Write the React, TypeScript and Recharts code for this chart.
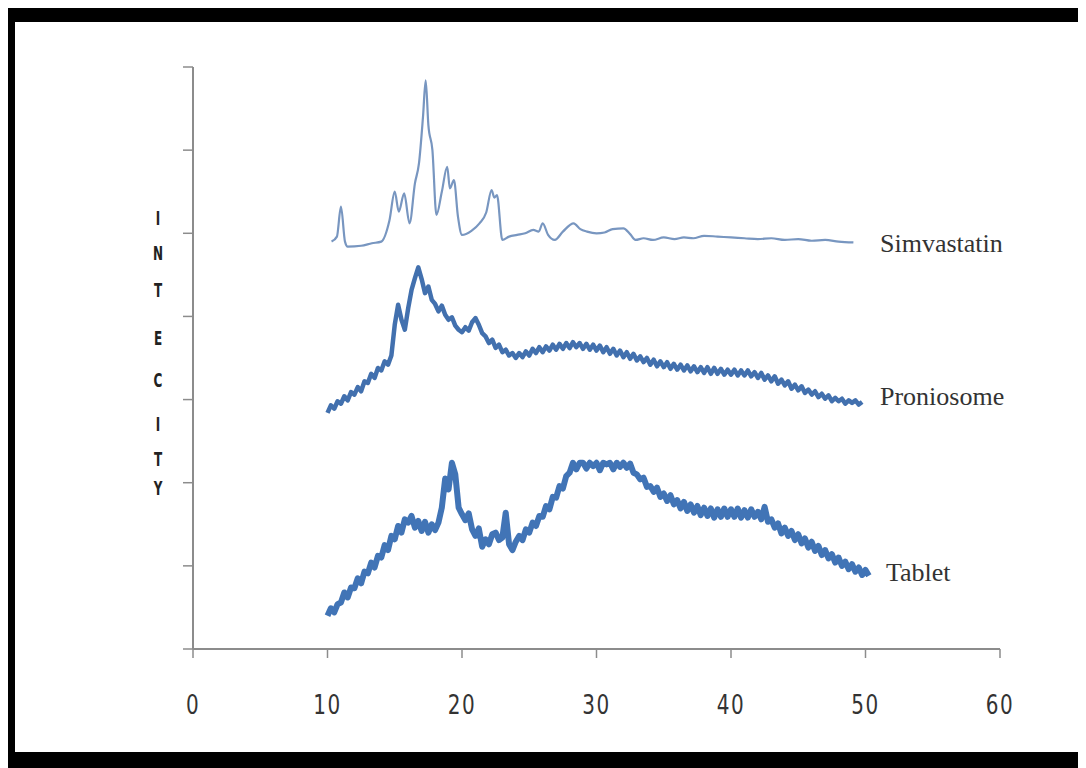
import React from "react";
import { LineChart, Line, XAxis, YAxis } from "recharts";

// x grid for the two dense scans (degrees 2-theta)
const gridStart = 10;
const gridStep = 0.25;

const xTicks = [0, 10, 20, 30, 40, 50, 60];
const yTicks = [0, 10, 20, 30, 40, 50, 60, 70];

const seriesNames = ["Simvastatin", "Proniosome", "Tablet"];
const yTitle = "INTECITY";

// Simvastatin: [x, intensity]
const simvastatin: [number, number][] = [
  [10.3, 49.0], [10.7, 49.6], [11.0, 53.2], [11.3, 49.0], [11.5, 48.4], [12.5, 48.5],
  [13.3, 48.8], [14.0, 49.0], [14.6, 51.5], [15.0, 55.0], [15.3, 52.6], [15.7, 54.8],
  [16.1, 51.2], [16.5, 56.0], [16.8, 58.4], [17.1, 64.0], [17.3, 68.4], [17.5, 63.0],
  [17.8, 60.0], [18.1, 52.2], [18.5, 55.0], [18.9, 58.0], [19.1, 55.4], [19.4, 56.4],
  [19.7, 52.0], [20.0, 49.8], [20.7, 50.3], [21.3, 51.2], [21.8, 52.5], [22.2, 55.2],
  [22.4, 54.3], [22.6, 54.6], [23.0, 49.2], [23.5, 49.6], [24.1, 49.8], [24.7, 50.0],
  [25.3, 50.4], [25.7, 50.2], [26.0, 51.2], [26.4, 49.8], [26.9, 49.2], [27.5, 50.2],
  [28.3, 51.2], [28.8, 50.5], [29.3, 50.2], [30.0, 50.0], [30.6, 50.1], [31.2, 50.5],
  [32.0, 50.6], [32.5, 49.9], [32.9, 49.2], [33.5, 49.4], [34.2, 49.2], [35.0, 49.5],
  [35.8, 49.3], [36.5, 49.5], [37.2, 49.4], [38.0, 49.7], [39.0, 49.6], [40.0, 49.5],
  [41.0, 49.4], [42.0, 49.3], [43.0, 49.4], [44.0, 49.2], [45.0, 49.3], [46.0, 49.1],
  [47.0, 49.2], [48.0, 49.0], [49.1, 48.9],
];

// Proniosome intensities, x = 10 .. 49.75 step 0.25
const proniosomeY = [
  28.4, 29.3, 28.9, 29.8, 29.5, 30.4, 29.9, 30.9, 30.6, 31.5, 31.0, 32.2,
  32.0, 33.1, 32.6, 33.8, 33.5, 34.6, 34.2, 35.3, 39.0, 41.4, 39.6, 38.4,
  41.0, 43.2, 44.6, 45.9, 44.5, 42.8, 43.6, 42.0, 41.5, 40.6, 41.3, 40.2,
  39.6, 39.9, 38.9, 38.4, 38.1, 38.7, 38.3, 39.3, 39.8, 39.0, 38.0, 37.6,
  36.8, 37.2, 36.2, 36.6, 35.7, 36.0, 35.3, 35.6, 35.0, 35.6, 35.1, 35.8,
  35.3, 36.1, 35.6, 36.3, 35.7, 36.4, 35.9, 36.6, 36.0, 36.7, 36.1, 36.8,
  36.2, 36.9, 36.3, 36.8, 36.1, 36.7, 36.0, 36.6, 35.9, 36.5, 35.7, 36.3,
  35.5, 36.1, 35.3, 35.9, 35.1, 35.7, 34.9, 35.5, 34.7, 35.2, 34.5, 35.0,
  34.2, 34.8, 34.0, 34.6, 33.9, 34.5, 33.7, 34.3, 33.6, 34.2, 33.5, 34.1,
  33.4, 34.0, 33.3, 33.9, 33.2, 33.9, 33.1, 33.8, 33.1, 33.7, 33.0, 33.6,
  33.0, 33.6, 32.9, 33.5, 32.9, 33.5, 32.8, 33.3, 32.6, 33.2, 32.4, 32.9,
  32.2, 32.8, 31.9, 32.4, 31.7, 32.2, 31.3, 31.8, 31.1, 31.6, 30.8, 31.2,
  30.6, 31.0, 30.3, 30.7, 30.1, 30.5, 29.8, 30.2, 29.8, 30.1, 29.5, 29.9,
  29.6, 29.9, 29.4, 29.7,
];

// Tablet intensities, x = 10 .. 50.25 step 0.25
const tabletY = [
  4.0, 4.9, 4.4, 5.4, 5.6, 6.8, 6.2, 7.4, 7.3, 8.5, 7.9, 9.3,
  9.1, 10.4, 9.8, 11.2, 11.0, 12.5, 11.9, 13.6, 13.2, 14.8, 14.0, 15.6,
  15.2, 16.0, 14.6, 15.4, 14.2, 15.3, 14.0, 15.0, 14.3, 15.2, 17.0, 20.5,
  19.2, 22.4, 21.0, 17.0, 16.2, 15.5, 16.3, 14.4, 13.6, 14.5, 12.3, 13.2,
  12.6, 13.8, 14.0, 13.1, 13.4, 16.4, 12.6, 11.9, 12.9, 13.6, 13.1, 14.4,
  14.0, 15.2, 14.8, 16.0, 15.9, 17.2, 16.8, 18.3, 18.2, 19.6, 19.3, 20.8,
  21.2, 22.4, 21.6, 22.4, 22.4, 21.7, 22.4, 22.0, 22.4, 21.5, 22.4, 22.2,
  22.4, 21.6, 22.4, 21.9, 22.4, 21.8, 22.3, 21.2, 21.0, 20.4, 20.6, 19.5,
  19.6, 18.9, 19.4, 18.3, 18.7, 17.8, 18.5, 17.4, 17.9, 16.9, 17.7, 16.6,
  17.4, 16.4, 17.2, 16.1, 17.0, 16.0, 16.9, 15.8, 16.8, 15.9, 16.9, 15.9,
  16.8, 15.9, 16.9, 15.8, 16.7, 15.8, 16.8, 15.9, 16.5, 15.6, 17.1, 15.3,
  15.6, 14.6, 15.1, 13.9, 14.6, 13.6, 14.2, 13.1, 13.8, 12.7, 13.3, 12.2,
  12.9, 11.8, 12.4, 11.3, 11.9, 10.9, 11.4, 10.4, 11.0, 10.0, 10.5, 9.6,
  10.2, 9.3, 9.8, 8.9, 9.5, 8.8,
];

const simData = simvastatin.map(([x, y]) => ({ x, y }));
const proData = proniosomeY.map((y, i) => ({ x: gridStart + i * gridStep, y }));
const tabData = tabletY.map((y, i) => ({ x: gridStart + i * gridStep, y }));

const XTick = (props: any) => {
  const { x, y, payload } = props;
  return (
    <text
      transform={`translate(${x}, ${y + 54}) scale(1, 1.3)`}
      x={0}
      y={0}
      textAnchor="middle"
      fontFamily="'DejaVu Sans', Verdana, sans-serif"
      fontSize={20}
      fill="#333"
      letterSpacing={1.5}
    >
      {payload.value}
    </text>
  );
};

const NoTick = () => <g />;

const titleCenters = [217, 252, 289, 337, 379, 423, 458, 487];

export default function App() {
  return (
    <div>
      <style>{`body{margin:8px;overflow:hidden;background:#fff}`}</style>
      <div
        style={{
          position: "relative",
          width: 1078,
          height: 760,
          boxSizing: "border-box",
          borderTop: "14px solid #000",
          borderLeft: "7px solid #000",
          borderBottom: "16px solid #000",
          background: "#fff",
        }}
      >
        <LineChart width={1071} height={730} margin={{ top: 45, right: 86, bottom: 0, left: 0 }}>
          <XAxis
            type="number"
            dataKey="x"
            domain={[0, 60]}
            ticks={xTicks}
            allowDataOverflow
            height={103}
            tickSize={9}
            tick={<XTick />}
            axisLine={{ stroke: "#8c8c8c", strokeWidth: 2 }}
            tickLine={{ stroke: "#8c8c8c", strokeWidth: 1.5 }}
          />
          <YAxis
            type="number"
            dataKey="y"
            domain={[0, 70]}
            ticks={yTicks}
            allowDataOverflow
            width={178}
            tickSize={10}
            tick={<NoTick />}
            axisLine={{ stroke: "#8c8c8c", strokeWidth: 2 }}
            tickLine={{ stroke: "#8c8c8c", strokeWidth: 1.5 }}
          />
          <Line
            data={simData}
            dataKey="y"
            name={seriesNames[0]}
            type="monotone"
            stroke="#7896c0"
            strokeWidth={2.2}
            dot={false}
            isAnimationActive={false}
          />
          <Line
            data={proData}
            dataKey="y"
            name={seriesNames[1]}
            type="linear"
            stroke="#4270ae"
            strokeWidth={4.5}
            strokeLinejoin="round"
            dot={false}
            isAnimationActive={false}
          />
          <Line
            data={tabData}
            dataKey="y"
            name={seriesNames[2]}
            type="linear"
            stroke="#4174b6"
            strokeWidth={6}
            strokeLinejoin="round"
            dot={false}
            isAnimationActive={false}
          />
        </LineChart>
        <svg
          width={1071}
          height={730}
          style={{ position: "absolute", left: 0, top: 0, pointerEvents: "none" }}
        >
          <text x={865} y={230} fontFamily="'Liberation Serif', 'Times New Roman', serif" fontSize={26} fill="#333">
            {seriesNames[0]}
          </text>
          <text x={865} y={383} fontFamily="'Liberation Serif', 'Times New Roman', serif" fontSize={26} fill="#333">
            {seriesNames[1]}
          </text>
          <text x={871} y={559} fontFamily="'Liberation Serif', 'Times New Roman', serif" fontSize={26} fill="#333">
            {seriesNames[2]}
          </text>
          {yTitle.split("").map((ch, i) => (
            <text
              key={i}
              transform={`translate(143, ${titleCenters[i] - 22 + 8}) scale(0.8, 1.35)`}
              x={0}
              y={0}
              textAnchor="middle"
              fontFamily="'DejaVu Sans', sans-serif"
              fontWeight="bold"
              fontSize={15}
              fill="#222"
            >
              {ch}
            </text>
          ))}
        </svg>
      </div>
    </div>
  );
}
